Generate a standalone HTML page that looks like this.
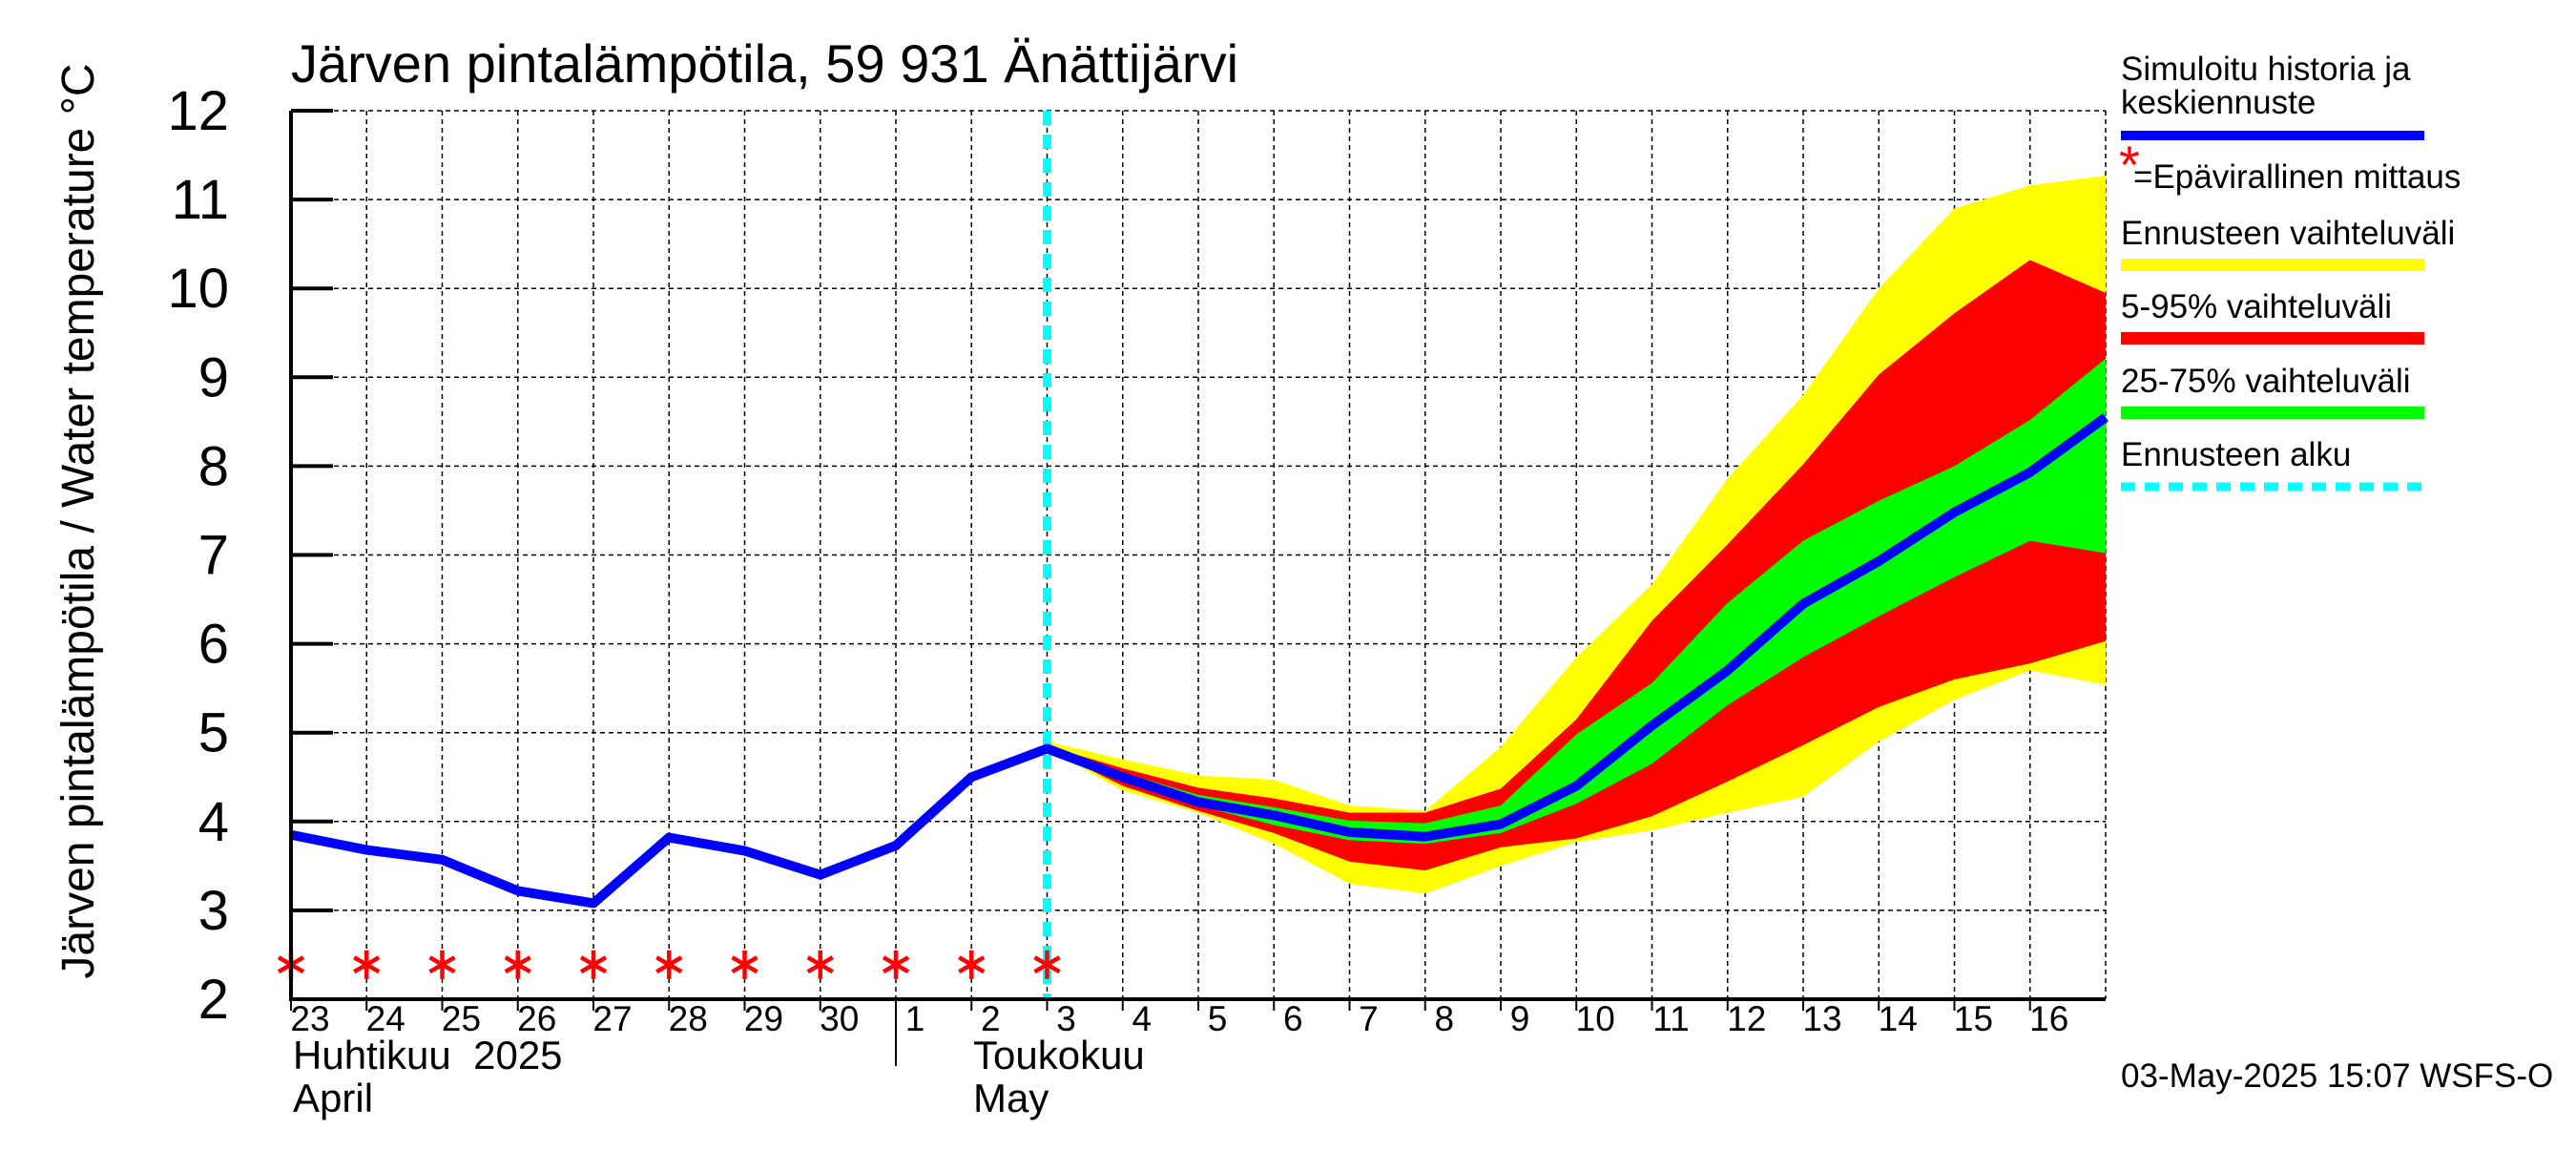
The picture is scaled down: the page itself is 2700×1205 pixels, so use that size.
<!DOCTYPE html>
<html><head><meta charset="utf-8"><style>
body{margin:0;background:#fff}
svg text{font-family:"Liberation Sans",sans-serif;fill:#000;white-space:pre}
</style></head><body>
<svg width="2700" height="1200" viewBox="0 0 2700 1200" xmlns="http://www.w3.org/2000/svg">
<g id="grid"></g>
<g id="bands"></g>
<g id="lines"></g>
<g id="axes"></g>
<text x="305" y="86" font-size="56">Järven pintalämpötila, 59 931 Änättijärvi</text>
<text transform="translate(98,546) rotate(-90)" text-anchor="middle" font-size="48">Järven pintalämpötila / Water temperature °C</text>
<text x="307" y="1120" font-size="42" xml:space="preserve">Huhtikuu  2025</text>
<text x="307" y="1165" font-size="42">April</text>
<text x="1020" y="1120" font-size="42">Toukokuu</text>
<text x="1020" y="1165" font-size="42">May</text>
<g>
<text x="2223" y="84" font-size="35">Simuloitu historia ja</text>
<text x="2223" y="119" font-size="35">keskiennuste</text>
<rect x="2223" y="137" width="318" height="10" fill="#0000ff"/>
<text x="2221" y="192" font-size="56" style="fill:#f00">*</text>
<text x="2236" y="197" font-size="35">=Epävirallinen mittaus</text>
<text x="2223" y="256" font-size="35">Ennusteen vaihteluväli</text>
<rect x="2223" y="271" width="318" height="13" fill="#ffff00"/>
<text x="2223" y="333" font-size="35">5-95% vaihteluväli</text>
<rect x="2223" y="348" width="318" height="13" fill="#ff0000"/>
<text x="2223" y="411" font-size="35">25-75% vaihteluväli</text>
<rect x="2223" y="426" width="318" height="13" fill="#00ff00"/>
<text x="2223" y="488" font-size="35">Ennusteen alku</text>
<line x1="2223" y1="510" x2="2541" y2="510" stroke="#00ffff" stroke-width="9" stroke-dasharray="15,10"/>
</g>
<text x="2223" y="1139" font-size="35">03-May-2025 15:07 WSFS-O</text>
</svg>
<script>
const dayLabels=["23","24","25","26","27","28","29","30","1","2","3","4","5","6","7","8","9","10","11","12","13","14","15","16"];
const yTicks=[2,3,4,5,6,7,8,9,10,11,12];
const histDays=[0,1,2,3,4,5,6,7,8,9,10];
const histVals=[3.85,3.68,3.57,3.22,3.08,3.82,3.67,3.40,3.73,4.50,4.82];
const starVals=[2.39,2.39,2.39,2.39,2.39,2.39,2.39,2.39,2.39,2.39,2.39];
const fcDays=[10,11,12,13,14,15,16,17,18,19,20,21,22,23,24];
const fcMedian=[4.82,4.50,4.22,4.07,3.88,3.83,3.97,4.40,5.08,5.70,6.45,6.93,7.48,7.93,8.55];
const yelHi=[4.9,4.7,4.52,4.47,4.18,4.12,4.84,5.85,6.67,7.86,8.8,10.0,10.9,11.16,11.27];
const yelLo=[4.82,4.35,4.1,3.75,3.3,3.19,3.5,3.77,3.9,4.1,4.28,4.9,5.37,5.7,5.54];
const redHi=[4.85,4.6,4.38,4.26,4.1,4.1,4.37,5.15,6.26,7.12,8.02,9.03,9.72,10.32,9.95];
const redLo=[4.82,4.4,4.12,3.87,3.55,3.45,3.71,3.81,4.06,4.45,4.86,5.29,5.6,5.78,6.03];
const grnHi=[4.83,4.55,4.3,4.16,4.01,3.98,4.18,4.98,5.56,6.46,7.16,7.61,8.0,8.52,9.21];
const grnLo=[4.82,4.45,4.18,3.96,3.79,3.75,3.87,4.2,4.65,5.31,5.85,6.31,6.75,7.16,7.02];
const forecastStart=10;
const X0=305,DX=79.25,Y2=1047,DY=93.1,NS="http://www.w3.org/2000/svg";
const xs=d=>X0+d*DX, ys=v=>Y2-(v-2)*DY;
function mk(tag,attrs,parent,txt){const e=document.createElementNS(NS,tag);for(const k in attrs)e.setAttribute(k,attrs[k]);if(txt!==undefined)e.textContent=txt;document.getElementById(parent).appendChild(e);return e;}
yTicks.forEach(v=>{if(v>2){const g=mk('line',{x1:X0,x2:xs(24),y1:ys(v),y2:ys(v),stroke:'#000','stroke-width':1.5,'stroke-dasharray':'5,4'},'grid');

}
const t=mk('line',{x1:X0,x2:X0+44,y1:ys(v),y2:ys(v),stroke:'#000','stroke-width':4},'axes');


const l=mk('text',{x:240,y:ys(v)+20,'text-anchor':'end','font-size':58},'axes',String(v));

});
for(let i=1;i<=24;i++){const g=mk('line',{x1:xs(i),x2:xs(i),y1:ys(12),y2:Y2,stroke:'#000','stroke-width':1.5,'stroke-dasharray':'5,4'},'grid');

}
dayLabels.forEach((d,i)=>{const t=mk('line',{x1:xs(i),x2:xs(i),y1:Y2,y2:Y2+12,stroke:'#000','stroke-width':2},'axes');


const l=mk('text',{x:xs(i)+20,y:1080,'text-anchor':'middle','font-size':37},'axes',d);

});
const sep=mk('line',{x1:xs(8),x2:xs(8),y1:Y2,y2:1117,stroke:'#000','stroke-width':2},'axes');


function band(hi,lo,color,name){const pts=fcDays.map((d,i)=>xs(d)+','+ys(hi[i])).concat(fcDays.map((d,i)=>xs(d)+','+ys(lo[i])).reverse());
const p=mk('polygon',{points:pts.join(' '),fill:color},'bands');

}
band(yelHi,yelLo,'#ffff00','band-full-range');
band(redHi,redLo,'#ff0000','band-5-95');
band(grnHi,grnLo,'#00ff00','band-25-75');
const fs=mk('line',{x1:xs(forecastStart),x2:xs(forecastStart),y1:ys(12),y2:Y2,stroke:'#00ffff','stroke-width':9,'stroke-dasharray':'15,10'},'lines');


const pts=histDays.map((d,i)=>xs(d)+','+ys(histVals[i])).concat(fcDays.slice(1).map((d,i)=>xs(d)+','+ys(fcMedian[i+1])));
const ml=mk('polyline',{points:pts.join(' '),fill:'none',stroke:'#0000ff','stroke-width':10,'stroke-linejoin':'round'},'lines');


histDays.forEach((d,i)=>{const cx=xs(d),cy=ys(starVals[i]);let s='';for(let a=0;a<3;a++){const an=Math.PI/2+a*Math.PI/3,r=15;s+=`M${cx-r*Math.cos(an)},${cy-r*Math.sin(an)}L${cx+r*Math.cos(an)},${cy+r*Math.sin(an)}`;}
const p=mk('path',{d:s,stroke:'#ff0000','stroke-width':4.5},'lines');

});
const ax=mk('polyline',{points:`${X0},${ys(12)} ${X0},${Y2} ${xs(24)},${Y2}`,fill:'none',stroke:'#000','stroke-width':4},'axes');


</script>
</body></html>
